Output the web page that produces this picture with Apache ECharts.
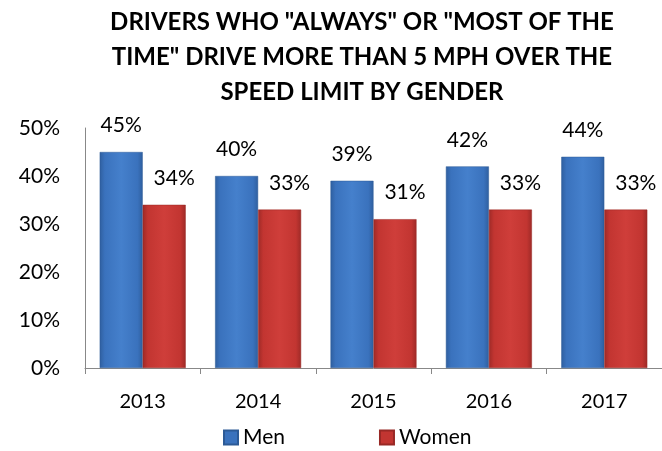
<!DOCTYPE html>
<html style="height: 100%">
<head>
<meta charset="utf-8">
<script src="https://cdn.jsdelivr.net/npm/echarts@6/dist/echarts.min.js"></script>
</head>
<body style="height: 100%; margin: 0; background: #fff">
<div id="container" style="width: 662px; height: 451px"></div>
<script>
// data
var years = ['2013', '2014', '2015', '2016', '2017'];
var men = [45, 40, 39, 42, 44];
var women = [34, 33, 31, 33, 33];
var yTicks = [0, 10, 20, 30, 40, 50];

var font = 'Lato, "Noto Sans", sans-serif';

function barGrad(dark, mid, light) {
  return new echarts.graphic.LinearGradient(0, 0, 1, 0, [
    {offset: 0, color: dark},
    {offset: 0.12, color: mid},
    {offset: 0.5, color: light},
    {offset: 0.88, color: mid},
    {offset: 1, color: dark}
  ]);
}
var blue = barGrad('#2f5f9f', '#3a72bd', '#4580cc');
var red = barGrad('#9e2a27', '#c23531', '#cf3e3a');

var myChart = echarts.init(document.getElementById('container'));
var option = {
  backgroundColor: '#ffffff',
  title: {
    text: 'DRIVERS WHO "ALWAYS" OR "MOST OF THE\nTIME" DRIVE MORE THAN 5 MPH OVER THE\nSPEED LIMIT BY GENDER',
    left: 357,
    top: 0,
    textAlign: 'center',
    textStyle: {
      fontFamily: font,
      fontWeight: 'bold',
      fontSize: 24,
      lineHeight: 35,
      color: '#000'
    }
  },
  legend: {
    data: [
      {name: 'Men', itemStyle: {color: '#3a72bd'}},
      {name: 'Women', itemStyle: {color: '#c23531'}}
    ],
    bottom: -2,
    left: 218,
    itemWidth: 14,
    itemHeight: 14,
    itemGap: 94,
    icon: 'rect',
    textStyle: {fontFamily: font, fontSize: 21, color: '#000'}
  },
  grid: {left: 85, right: 0, top: 128, bottom: 83},
  xAxis: {
    type: 'category',
    data: years,
    axisLine: {lineStyle: {color: '#888', width: 1}},
    axisTick: {show: true, length: 6, lineStyle: {color: '#888'}},
    axisLabel: {fontFamily: font, fontSize: 20, color: '#000', margin: 24}
  },
  yAxis: {
    type: 'value',
    min: yTicks[0],
    max: yTicks[yTicks.length - 1],
    interval: 10,
    axisLine: {show: true, lineStyle: {color: '#888'}},
    axisTick: {show: false},
    splitLine: {show: false},
    axisLabel: {fontFamily: font, fontSize: 21, color: '#000', margin: 25, formatter: '{value}%'}
  },
  series: [
    {
      name: 'Men',
      type: 'bar',
      data: men,
      barWidth: 43,
      barGap: '0%',
      itemStyle: {color: blue, borderColor: '#2c5a96', borderWidth: 0.5},
      label: {show: true, position: 'top', distance: 16, formatter: '{c}%', fontFamily: font, fontSize: 21, color: '#000'}
    },
    {
      name: 'Women',
      type: 'bar',
      data: women,
      barWidth: 43,
      barGap: '0%',
      itemStyle: {color: red, borderColor: '#982825', borderWidth: 0.5},
      label: {show: true, position: 'top', distance: 16, offset: [10, 0], formatter: '{c}%', fontFamily: font, fontSize: 21, color: '#000'}
    }
  ]
};
myChart.setOption(option);
</script>
</body>
</html>
